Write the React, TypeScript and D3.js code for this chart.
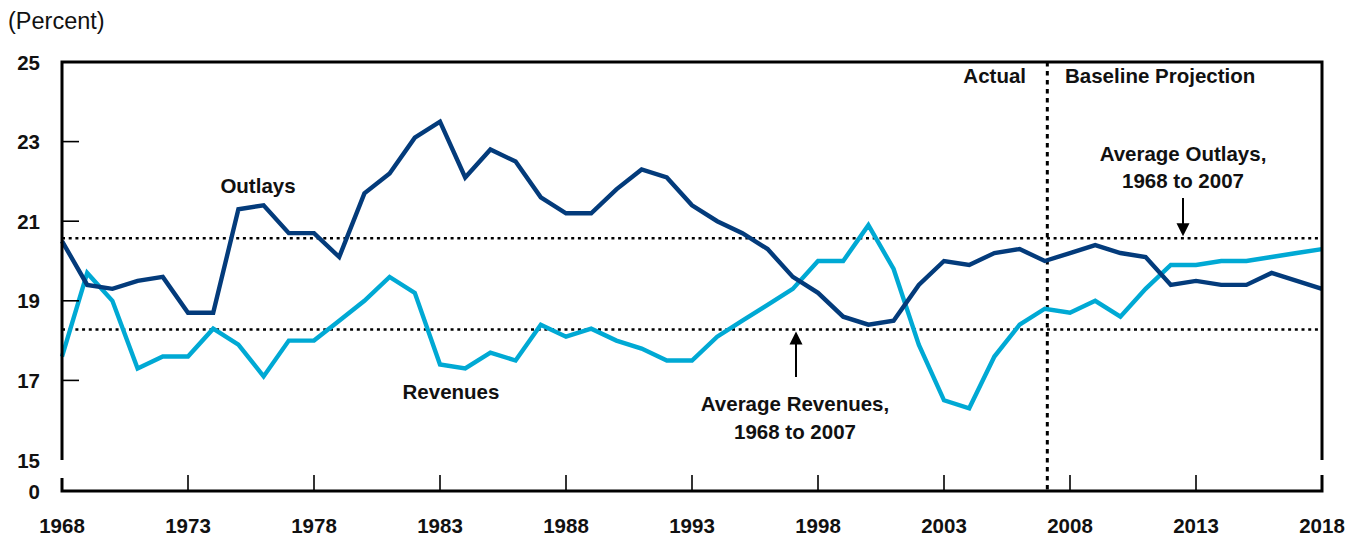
import React from "react";
import * as d3 from "d3";

const years: number[] = d3.range(1968, 2019);
const outlays: number[] = [
  20.5, 19.4, 19.3, 19.5, 19.6, 18.7, 18.7, 21.3, 21.4, 20.7,
  20.7, 20.1, 21.7, 22.2, 23.1, 23.5, 22.1, 22.8, 22.5, 21.6,
  21.2, 21.2, 21.8, 22.3, 22.1, 21.4, 21.0, 20.7, 20.3, 19.6,
  19.2, 18.6, 18.4, 18.5, 19.4, 20.0, 19.9, 20.2, 20.3, 20.0,
  20.2, 20.4, 20.2, 20.1, 19.4, 19.5, 19.4, 19.4, 19.7, 19.5,
  19.3,
];
const revenues: number[] = [
  17.6, 19.7, 19.0, 17.3, 17.6, 17.6, 18.3, 17.9, 17.1, 18.0,
  18.0, 18.5, 19.0, 19.6, 19.2, 17.4, 17.3, 17.7, 17.5, 18.4,
  18.1, 18.3, 18.0, 17.8, 17.5, 17.5, 18.1, 18.5, 18.9, 19.3,
  20.0, 20.0, 20.9, 19.8, 17.9, 16.5, 16.3, 17.6, 18.4, 18.8,
  18.7, 19.0, 18.6, 19.3, 19.9, 19.9, 20.0, 20.0, 20.1, 20.2,
  20.3,
];
const avgOutlays = 20.57;
const avgRevenues = 18.28;
const yTicks: number[] = [25, 23, 21, 19, 17, 15];
const xTicks: number[] = [1968, 1973, 1978, 1983, 1988, 1993, 1998, 2003, 2008, 2013, 2018];
const dividerYear = 2007.1;

const DARK = "#033b7b";
const LIGHT = "#00a9d4";
const FONT = "'Liberation Sans', Arial, sans-serif";

export default function App() {
  const W = 1357;
  const H = 537;
  const left = 62;
  const right = 1322;
  const top = 62;
  const y15 = 460;
  const axisY = 491;

  const x = d3.scaleLinear().domain([1968, 2018]).range([left, right]);
  const y = d3.scaleLinear().domain([15, 25]).range([y15, top]);

  const line = d3
    .line<number>()
    .x((_, i) => x(years[i]))
    .y((d) => y(d));

  const divX = x(dividerYear);

  const lbl = { fontFamily: FONT, fontWeight: 700, fontSize: 20.5, fill: "#111" } as const;

  return (
    <svg width={W} height={H} style={{ position: "absolute", left: 0, top: 0 }}>
      <rect x={0} y={0} width={W} height={H} fill="#fff" />
      <text x={8} y={29} fontFamily={FONT} fontSize={23.5} fill="#111">
        (Percent)
      </text>

      {/* average dotted lines */}
      <line x1={left} x2={right} y1={y(avgOutlays)} y2={y(avgOutlays)} stroke="#000" strokeWidth={2.6} strokeDasharray="3,3.7" />
      <line x1={left} x2={right} y1={y(avgRevenues)} y2={y(avgRevenues)} stroke="#000" strokeWidth={2.6} strokeDasharray="3,3.7" />

      {/* divider */}
      <line x1={divX} x2={divX} y1={top} y2={axisY} stroke="#000" strokeWidth={3} strokeDasharray="4.5,4.5" />

      {/* series */}
      <path d={line(revenues) || ""} fill="none" stroke={LIGHT} strokeWidth={4.4} strokeLinejoin="miter" />
      <path d={line(outlays) || ""} fill="none" stroke={DARK} strokeWidth={4.4} strokeLinejoin="miter" />

      {/* frame */}
      <path
        d={`M${left},${y15} L${left},${top} L${right},${top} L${right},${y15}`}
        fill="none"
        stroke="#000"
        strokeWidth={3}
      />
      <path
        d={`M${left},${axisY - 13} L${left},${axisY} L${right},${axisY} L${right},${axisY - 16}`}
        fill="none"
        stroke="#000"
        strokeWidth={3}
      />

      {/* y ticks */}
      {yTicks.map((t) => (
        <g key={t}>
          {t !== 25 && t !== 15 && (
            <line x1={left} x2={left + 17} y1={y(t)} y2={y(t)} stroke="#000" strokeWidth={1.6} />
          )}
          <text x={40} y={y(t) + 7.5} textAnchor="end" {...lbl}>
            {t}
          </text>
        </g>
      ))}
      <text x={40} y={axisY + 7.5} textAnchor="end" {...lbl}>
        0
      </text>

      {/* x ticks */}
      {xTicks.map((t) => (
        <g key={t}>
          {t !== 1968 && t !== 2018 && (
            <line x1={x(t)} x2={x(t)} y1={axisY} y2={axisY - 16} stroke="#000" strokeWidth={1.6} />
          )}
          <text x={x(t)} y={533} textAnchor="middle" {...lbl}>
            {t}
          </text>
        </g>
      ))}

      {/* annotations */}
      <text x={258} y={193} textAnchor="middle" {...lbl}>
        Outlays
      </text>
      <text x={451} y={399} textAnchor="middle" {...lbl}>
        Revenues
      </text>
      <text x={1026} y={83} textAnchor="end" {...lbl}>
        Actual
      </text>
      <text x={1065} y={83} textAnchor="start" {...lbl}>
        Baseline Projection
      </text>

      <text x={795} y={411} textAnchor="middle" {...lbl}>
        Average Revenues,
      </text>
      <text x={795} y={439} textAnchor="middle" {...lbl}>
        1968 to 2007
      </text>
      <line x1={796} x2={796} y1={377} y2={y(avgRevenues) + 12} stroke="#000" strokeWidth={2} />
      <path
        d={`M${796},${y(avgRevenues) + 2} L${789.5},${y(avgRevenues) + 15} L${802.5},${y(avgRevenues) + 15} Z`}
        fill="#000"
      />

      <text x={1183} y={161} textAnchor="middle" {...lbl}>
        Average Outlays,
      </text>
      <text x={1183} y={188} textAnchor="middle" {...lbl}>
        1968 to 2007
      </text>
      <line x1={1183} x2={1183} y1={198} y2={y(avgOutlays) - 12} stroke="#000" strokeWidth={2} />
      <path
        d={`M${1183},${y(avgOutlays) - 2} L${1176.5},${y(avgOutlays) - 15} L${1189.5},${y(avgOutlays) - 15} Z`}
        fill="#000"
      />
    </svg>
  );
}
